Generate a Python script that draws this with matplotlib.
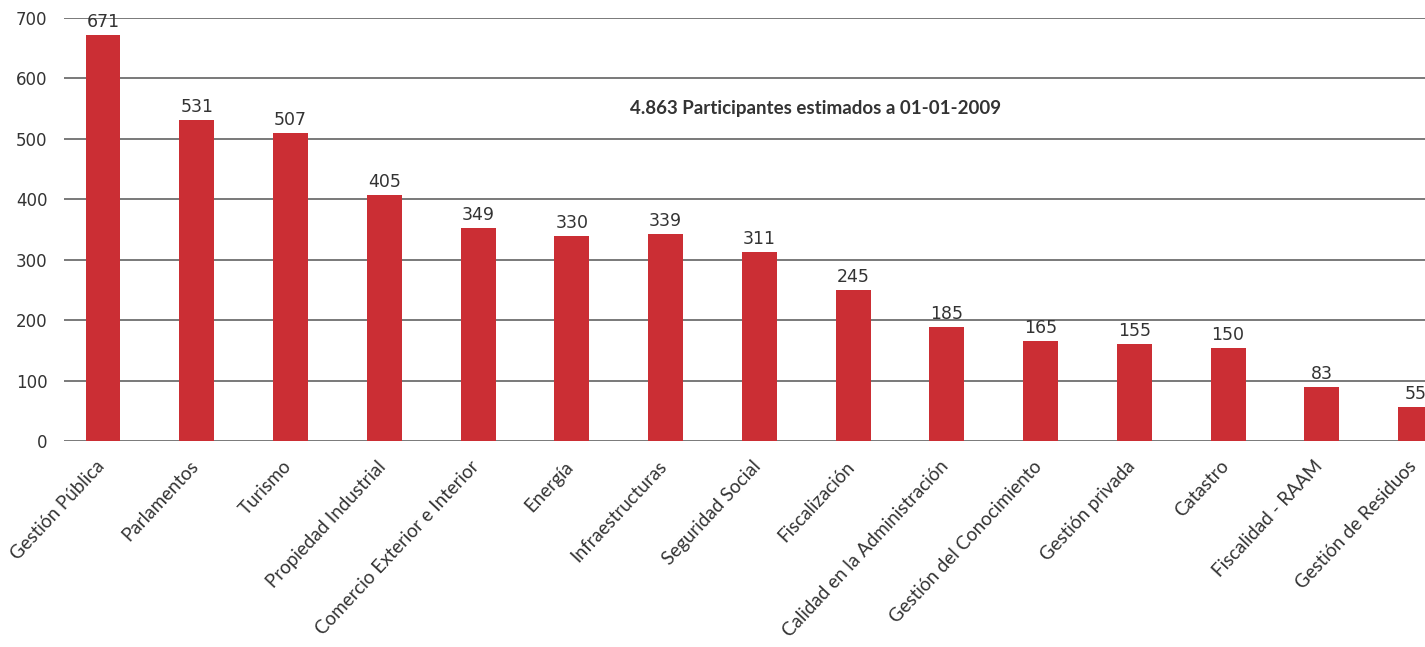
import matplotlib
matplotlib.use('Agg')
import matplotlib.pyplot as plt
import matplotlib.transforms as mtransforms
import numpy as np

categories = ['Gestión Pública', 'Parlamentos', 'Turismo', 'Propiedad Industrial',
              'Comercio Exterior e Interior', 'Energía', 'Infraestructuras',
              'Seguridad Social', 'Fiscalización', 'Calidad en la Administración',
              'Gestión del Conocimiento', 'Gestión privada', 'Catastro',
              'Fiscalidad - RAAM', 'Gestión de Residuos']
# labels as printed on the chart
labels = [671, 531, 507, 405, 349, 330, 339, 311, 245, 185, 165, 155, 150, 83, 55]
# bar heights as drawn (slightly off from the printed labels in the original)
heights = [672, 531, 510, 407, 353, 339, 343, 313, 250, 189, 166, 161, 154, 89, 56]
yticks = [0, 100, 200, 300, 400, 500, 600, 700]
title = '4.863 Participantes estimados a 01-01-2009'

plt.rcParams['font.family'] = ['Lato', 'DejaVu Sans']
text_color = '#333333'
bar_color = '#cb2e34'

fig = plt.figure(figsize=(14.25, 6.47), dpi=100)
ax = fig.add_axes([0.0449, 0.3184, 0.9551, 0.6538])

x = np.arange(len(categories))
ax.set_axisbelow(True)
for t in yticks:
    ax.axhline(t, color='#555555', lw=1.1, zorder=0)
ax.bar(x, heights, width=0.373, color=bar_color, zorder=2)

for xi, h, lab in zip(x, heights, labels):
    ax.annotate(str(lab), (xi, h), xytext=(0, 3), textcoords='offset points',
                ha='center', va='bottom', fontsize=12.5, color=text_color,
                family='DejaVu Sans')

ax.set_xlim(-0.416, 14.1)
ax.set_ylim(0, 700)
ax.set_yticks(yticks)
ax.set_yticklabels([str(t) for t in yticks], fontsize=12, color=text_color,
                   family='DejaVu Sans')
ax.tick_params(axis='y', length=0, pad=12)
ax.set_xticks(x)
ax.set_xticklabels(categories, rotation=47, ha='right', rotation_mode='anchor',
                   fontsize=13.5, color=text_color)
ax.tick_params(axis='x', length=0, pad=12)
shift = mtransforms.ScaledTranslation(-8 / 100, 0, fig.dpi_scale_trans)
for lbl in ax.get_xticklabels():
    lbl.set_transform(lbl.get_transform() + shift)
for s in ax.spines.values():
    s.set_visible(False)

ax.text(0.552, 0.785, title, transform=ax.transAxes, ha='center', va='center',
        fontsize=13.5, fontweight='bold', color=text_color)

fig.savefig('out.png', dpi=100)
